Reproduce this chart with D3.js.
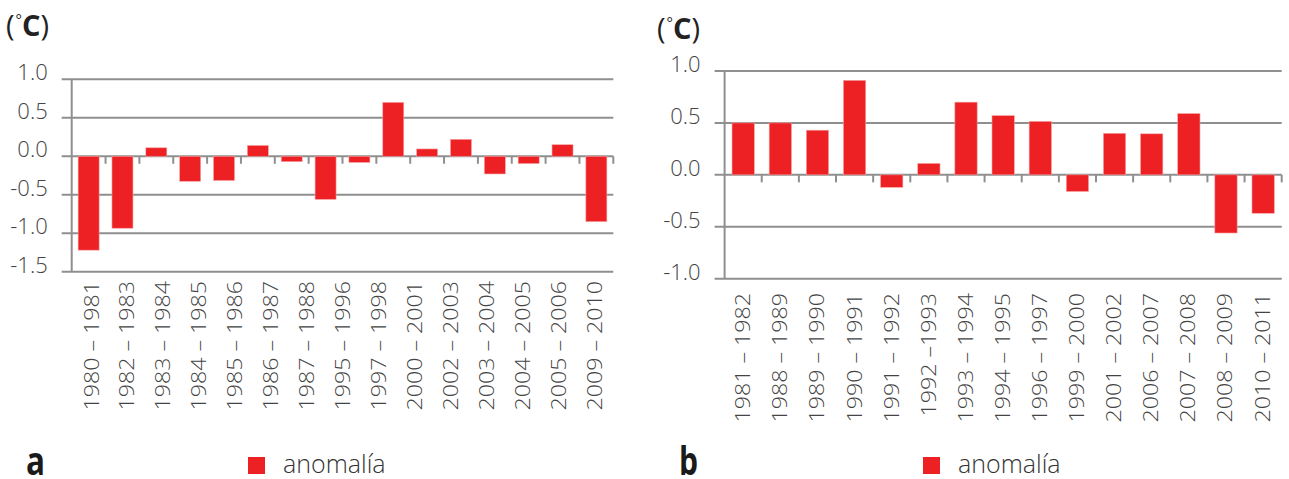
<!DOCTYPE html>
<html>
<head>
<meta charset="utf-8">
<script src="https://cdn.jsdelivr.net/npm/d3@7"></script>
<style>
  html, body { margin: 0; padding: 0; background: #ffffff; }
  svg { display: block; }
  text { font-family: "Open Sans", "Noto Sans", sans-serif; }
</style>
</head>
<body>
<svg id="chart" width="1289" height="479"></svg>
<script>
// Panel a: seasonal temperature anomalies (16 bars, 15 period labels)
const catsA = ["1980 – 1981", "1982 – 1983", "1983 – 1984", "1984 – 1985", "1985 – 1986",
  "1986 – 1987", "1987 – 1988", "1995 – 1996", "1997 – 1998", "2000 – 2001",
  "2002 – 2003", "2003 – 2004", "2004 – 2005", "2005 – 2006", "2009 – 2010"];
const valsA = [-1.22, -0.935, 0.11, -0.325, -0.315, 0.14, -0.07, -0.56,
  -0.08, 0.70, 0.095, 0.22, -0.23, -0.095, 0.15, -0.85];
const ticksA = [1.0, 0.5, 0.0, -0.5, -1.0, -1.5];

// Panel b: seasonal temperature anomalies
const catsB = ["1981 – 1982", "1988 – 1989", "1989 – 1990", "1990 – 1991", "1991 – 1992",
  "1992 –1993", "1993 – 1994", "1994 – 1995", "1996 – 1997", "1999 – 2000",
  "2001 – 2002", "2006 – 2007", "2007 – 2008", "2008 – 2009", "2010 – 2011"];
const valsB = [0.50, 0.50, 0.43, 0.91, -0.12, 0.11, 0.70, 0.57, 0.515, -0.16,
  0.40, 0.395, 0.59, -0.56, -0.37];
const ticksB = [1.0, 0.5, 0.0, -0.5, -1.0];

const seriesName = "anomalía";
const unitLabel = "°C";

const RED = "#ed2024";
const GRID = "#8f8f8f";
const TXT = "#444444";

const fmt = d3.formatLocale({decimal: ".", thousands: ",", grouping: [3], currency: ["", ""], minus: "-"}).format(".1f");

const svg = d3.select("#chart");

function panel(cfg) {
  const g = svg.append("g");
  const n = cfg.vals.length;
  const x = d3.scaleBand().domain(d3.range(n)).range([cfg.x0, cfg.x1]).padding(0);
  const y = d3.scaleLinear().domain(d3.extent(cfg.ticks)).range([cfg.yBottom, cfg.yTop]);
  const barW = x.bandwidth() * cfg.barFrac;

  // horizontal grid lines, extending left of the axis as tick marks
  g.append("g").selectAll("line").data(cfg.ticks).join("line")
    .attr("x1", cfg.x0 - 10).attr("x2", cfg.x1)
    .attr("y1", d => y(d)).attr("y2", d => y(d))
    .attr("stroke", GRID).attr("stroke-width", 2);

  // y tick labels sit on top of their grid lines
  g.append("g").selectAll("text").data(cfg.ticks).join("text")
    .attr("x", cfg.x0 - 24).attr("y", d => y(d) + 1)
    .attr("text-anchor", "end")
    .attr("font-size", 22).attr("font-weight", 300).attr("fill", TXT)
    .text(d => fmt(d));

  // bars
  g.append("g").selectAll("rect").data(cfg.vals).join("rect")
    .attr("x", (d, i) => x(i) + (x.bandwidth() - barW) / 2)
    .attr("width", barW)
    .attr("y", d => y(Math.max(0, d)))
    .attr("height", d => Math.abs(y(d) - y(0)))
    .attr("fill", RED)
    .attr("stroke", "#f6a3a3").attr("stroke-width", 0.6);

  // vertical axis
  g.append("line")
    .attr("x1", cfg.x0).attr("x2", cfg.x0)
    .attr("y1", cfg.yTop).attr("y2", cfg.yBottom)
    .attr("stroke", GRID).attr("stroke-width", 2);

  // category boundary ticks below the zero line
  g.append("g").selectAll("line").data(d3.range(1, n + 1)).join("line")
    .attr("x1", i => x(i - 1) + x.bandwidth()).attr("x2", i => x(i - 1) + x.bandwidth())
    .attr("y1", y(0)).attr("y2", y(0) + 7.5)
    .attr("stroke", GRID).attr("stroke-width", 2);

  // rotated period labels, slightly widened
  const xl = d3.scalePoint().domain(cfg.cats).range(cfg.labelRange);
  const labels = g.append("g").selectAll("text").data(cfg.cats).join("text")
    .attr("transform", d => `translate(${xl(d)},${cfg.labelTop}) rotate(-90)`)
    .attr("dy", "0.35em")
    .attr("text-anchor", "end")
    .attr("font-size", 20).attr("font-weight", 300).attr("fill", TXT)
    .text(d => d);
  labels.each(function () {
    const len = this.getComputedTextLength();
    d3.select(this).attr("textLength", len * 1.16).attr("lengthAdjust", "spacingAndGlyphs");
  });

  // unit title
  const t = g.append("text")
    .attr("x", cfg.titleX).attr("y", cfg.titleY)
    .attr("font-size", 29).attr("fill", "#222");
  t.append("tspan").attr("font-weight", 400).text("(");
  t.append("tspan").attr("font-size", 15).attr("dy", -11).attr("dx", 1).text(unitLabel.slice(0, 1));
  t.append("tspan").attr("font-weight", 700).attr("dy", 11).text(unitLabel.slice(1));
  t.append("tspan").attr("font-weight", 400).text(")");

  // panel letter (condensed)
  g.append("text")
    .attr("x", cfg.letterX).attr("y", 475)
    .attr("font-size", 40).attr("font-weight", 700).attr("fill", "#1a1a1a")
    .attr("textLength", 19).attr("lengthAdjust", "spacingAndGlyphs")
    .text(cfg.letter);

  // legend
  g.append("rect")
    .attr("x", cfg.legendX).attr("y", 457).attr("width", 17).attr("height", 17)
    .attr("fill", RED);
  g.append("text")
    .attr("x", cfg.legendX + 35).attr("y", 473)
    .attr("font-size", 25).attr("font-weight", 300).attr("fill", "#333")
    .text(seriesName);
}

panel({
  cats: catsA, vals: valsA, ticks: ticksA,
  x0: 71.7, x1: 613.3, yTop: 79.3, yBottom: 271.7,
  barFrac: 0.62, labelRange: [91.5, 595], labelTop: 281,
  titleX: 6, titleY: 36, letter: "a", letterX: 26, legendX: 248
});

panel({
  cats: catsB, vals: valsB, ticks: ticksB,
  x0: 724.6, x1: 1281.7, yTop: 71, yBottom: 278.7,
  barFrac: 0.6, labelRange: [743.3, 1262.5], labelTop: 293,
  titleX: 657, titleY: 39, letter: "b", letterX: 679, legendX: 923
});
</script>
</body>
</html>
